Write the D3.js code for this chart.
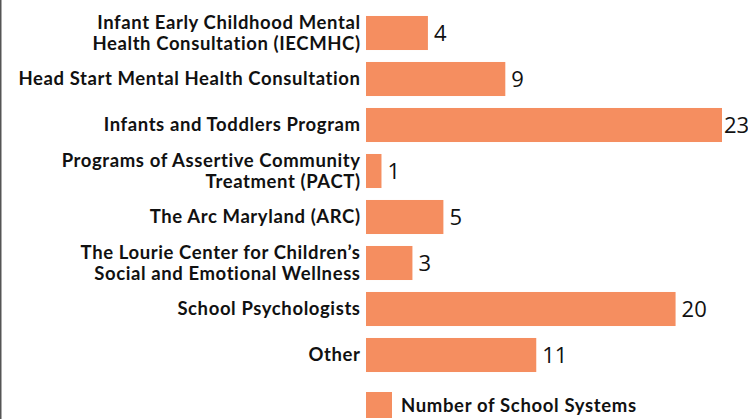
<!DOCTYPE html>
<html><head><meta charset="utf-8">
<script src="https://cdn.jsdelivr.net/npm/d3@7"></script>
<style>body{margin:0;background:#fff}svg{display:block}</style>
</head><body>
<svg id="c" width="748" height="419"></svg>
<script>
const categories = [
  ["Infant Early Childhood Mental", "Health Consultation (IECMHC)"],
  ["Head Start Mental Health Consultation"],
  ["Infants and Toddlers Program"],
  ["Programs of Assertive Community", "Treatment (PACT)"],
  ["The Arc Maryland (ARC)"],
  ["The Lourie Center for Children\u2019s", "Social and Emotional Wellness"],
  ["School Psychologists"],
  ["Other"]
];
const values = [4, 9, 23, 1, 5, 3, 20, 11];
const seriesName = "Number of School Systems";
const color = "#f58e60";

const svg = d3.select("#c");
svg.append("line").attr("x1",0.75).attr("x2",0.75).attr("y1",0).attr("y2",419)
  .attr("stroke","#555").attr("stroke-width",1.5);

const x = d3.scaleLinear().domain([0, 23]).range([366, 722]);
const y = d3.scaleBand().domain(d3.range(categories.length)).range([10, 378]).paddingInner(0.26).paddingOuter(0.13);

const g = svg.append("g");
g.selectAll("rect.bar").data(values).join("rect").attr("class","bar")
  .attr("x", x(0)).attr("y", (d,i)=>y(i)).attr("width", d=>x(d)-x(0)).attr("height", y.bandwidth())
  .attr("fill", color);

g.selectAll("text.val").data(values).join("text").attr("class","val")
  .attr("x", d=>Math.min(x(d)+6, 748-24)).attr("y", (d,i)=>y(i)+y.bandwidth()/2).attr("dy","0.36em")
  .attr("font-family","Open Sans").attr("font-size",22).attr("fill","#111").text(d=>d);

const lab = g.selectAll("text.cat").data(categories).join("text").attr("class","cat")
  .attr("text-anchor","end").attr("font-family","Lato").attr("font-weight","bold")
  .attr("font-size",18.5).attr("letter-spacing","0.6px").attr("fill","#111")
  .attr("transform",(d,i)=>`translate(360.6,${y(i)+y.bandwidth()/2})`);
lab.each(function(d){
  const t = d3.select(this);
  const n = d.length;
  d.forEach((line,k)=>{
    t.append("tspan").attr("x",0).attr("y",(k-(n-1)/2)*20.5).attr("dy","0.35em").text(line);
  });
});

svg.append("rect").attr("x",366).attr("y",392).attr("width",26).attr("height",26).attr("fill",color);
svg.append("text").attr("x",401).attr("y",405).attr("dy","0.36em").attr("font-family","Lato")
  .attr("font-weight","bold").attr("font-size",18.5).attr("letter-spacing","0.65px").attr("fill","#111").text(seriesName);
</script>
</body></html>
